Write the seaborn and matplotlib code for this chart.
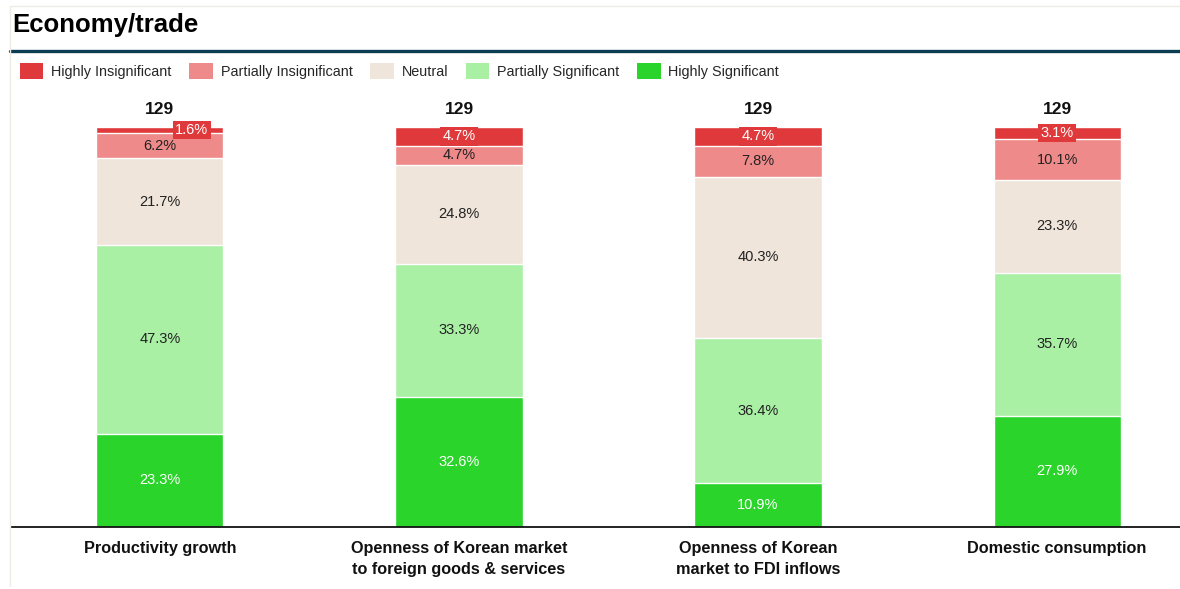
import matplotlib
matplotlib.use("Agg")
import matplotlib.pyplot as plt
import seaborn as sns
import numpy as np
from matplotlib.patches import Patch
from matplotlib.lines import Line2D

sns.set_theme(style="white")
plt.rcParams['font.family'] = ['Liberation Sans', 'DejaVu Sans']

categories = ["Productivity growth",
              "Openness of Korean market\nto foreign goods & services",
              "Openness of Korean\nmarket to FDI inflows",
              "Domestic consumption"]
series_names = ["Highly Insignificant", "Partially Insignificant", "Neutral",
                "Partially Significant", "Highly Significant"]
highly_insig = [1.6, 4.7, 4.7, 3.1]
partially_insig = [6.2, 4.7, 7.8, 10.1]
neutral = [21.7, 24.8, 40.3, 23.3]
partially_sig = [47.3, 33.3, 36.4, 35.7]
highly_sig = [23.3, 32.6, 10.9, 27.9]
counts = [129, 129, 129, 129]

colors = ["#e0393b", "#ee8a89", "#efe5da", "#a9f0a5", "#2ad42a"]
text_colors = ["white", "#222222", "#222222", "#222222", "white"]

W, H = 1180, 589
fig = plt.figure(figsize=(W / 100, H / 100), dpi=100)

def fx(px):
    return px / W

def fy(py):
    return 1 - py / H

ax = fig.add_axes([fx(11), fy(527), fx(1180) - fx(11), fy(127) - fy(527)])

# stacking order bottom -> top
stack = [highly_sig, partially_sig, neutral, partially_insig, highly_insig]
stack_colors = colors[::-1]
stack_text = text_colors[::-1]
cum = np.cumsum(np.array(stack), axis=0)

# draw from top cumulative downwards (overlay)
for i in range(len(stack) - 1, -1, -1):
    sns.barplot(x=list(range(len(categories))), y=cum[i], color=stack_colors[i],
                width=0.425, ax=ax, edgecolor="white", linewidth=1,
                saturation=1, native_scale=True)

total = cum[-1]
ax.set_ylim(0, max(total))
ax.set_xlim(-0.498, 3.411)

# labels
for i in range(len(stack)):
    for j in range(len(categories)):
        v = stack[i][j]
        lo = cum[i][j] - v
        yc = lo + v / 2
        if i == len(stack) - 1:
            xoff = 0.107 if v < 2 else 0
            ax.text(j + xoff, yc, f"{v:.1f}%", ha="center", va="center",
                    fontsize=10.5, color="white",
                    bbox=dict(facecolor=colors[0], edgecolor="none", pad=1.6))
        else:
            ax.text(j, yc, f"{v:.1f}%", ha="center", va="center",
                    fontsize=10.5, color=stack_text[i])

for j, c in enumerate(counts):
    ax.text(j, total[j] + 2.6, str(c), ha="center", va="bottom",
            fontsize=12.5, fontweight="bold", color="#111111", clip_on=False)

ax.set_xticks(range(len(categories)))
ax.set_xticklabels(categories, fontsize=11.7, fontweight="bold", color="#111111",
                   linespacing=1.55)
ax.tick_params(axis="x", length=0, pad=10)
ax.set_yticks([])
ax.set_xlabel("")
ax.set_ylabel("")
for s in ["top", "right", "left"]:
    ax.spines[s].set_visible(False)
ax.spines["bottom"].set_color("#111111")
ax.spines["bottom"].set_linewidth(1.3)

# title and decorations
fig.text(fx(12), fy(25), "Economy/trade", fontsize=18.5, fontweight="bold",
         color="#000000", va="center", ha="left")
fig.add_artist(Line2D([fx(10), 1], [fy(50.5), fy(50.5)], color="#0b3c52", linewidth=2.4))
fig.add_artist(Line2D([fx(10), 1], [fy(6), fy(6)], color="#eeebe5", linewidth=1))
fig.add_artist(Line2D([fx(10), fx(10)], [fy(6), fy(586)], color="#eeebe5", linewidth=1))

handles = [Patch(facecolor=c, edgecolor="none", label=n) for n, c in zip(series_names, colors)]
fig.legend(handles=handles, loc="center left", bbox_to_anchor=(fx(20), fy(71)),
           ncol=5, frameon=False, fontsize=10.4, handlelength=1.6, handleheight=1.25,
           handletextpad=0.55, columnspacing=1.25, borderaxespad=0, borderpad=0)

fig.savefig("out.png", dpi=100)
